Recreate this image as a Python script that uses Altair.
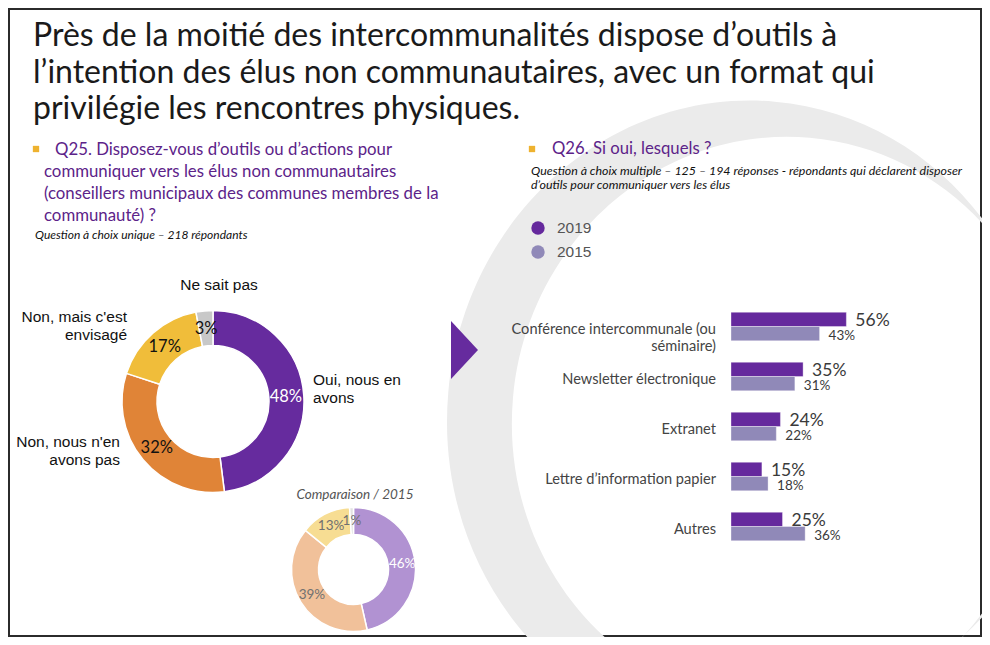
import altair as alt
import pandas as pd

# ---------------- data ----------------
title_lines = [
    "Près de la moitié des intercommunalités dispose d’outils à",
    "l’intention des élus non communautaires, avec un format qui",
    "privilégie les rencontres physiques.",
]
q25_first = "Q25. Disposez-vous d’outils ou d’actions pour"
q25_rest = [
    "communiquer vers les élus non communautaires",
    "(conseillers municipaux des communes membres de la",
    "communauté) ?",
]
q25_note = "Question à choix unique – 218 répondants"
q26_title = "Q26. Si oui, lesquels ?"
q26_note = [
    "Question à choix multiple – 125 – 194 réponses - répondants qui déclarent disposer",
    "d’outils pour communiquer vers les élus",
]
comparison_title = "Comparaison / 2015"

donut_cats = ["Oui, nous en avons", "Non, nous n'en avons pas",
              "Non, mais c'est envisagé", "Ne sait pas"]
donut_2019 = [48, 32, 17, 3]
donut_2015 = [46, 39, 13, 1]

series = ["2019", "2015"]
bar_cats = ["Conférence intercommunale (ou séminaire)", "Newsletter électronique",
            "Extranet", "Lettre d’information papier", "Autres"]
bar_label_lines = [["Conférence intercommunale (ou", "séminaire)"],
                   ["Newsletter électronique"], ["Extranet"],
                   ["Lettre d’information papier"], ["Autres"]]
v2019 = [56, 35, 24, 15, 25]
v2015 = [43, 31, 22, 18, 36]

# ---------------- styles ----------------
COL_2019 = ["#662b9e", "#e08437", "#f0bd3a", "#c8c8c8"]
COL_2015 = ["#b192d2", "#f1c19a", "#f7dd93", "#e2e2e2"]
BAR_COL = ["#65299d", "#9089b8"]
PURPLE_Q = "#5c2389"
BULLET = "#eeb22f"


def P(v):
    return v - 8


one = pd.DataFrame({"k": [0]})


def txt(text, x, y, size, color="#111111", font="Lato", align="left",
        baseline="alphabetic", style="normal", weight="normal", lh=None):
    kw = dict(text=text, fontSize=size, color=color, font=font, align=align,
              baseline=baseline, fontStyle=style, fontWeight=weight)
    if lh:
        kw["lineHeight"] = lh
    return alt.Chart(one).mark_text(**kw).encode(x=alt.value(P(x)), y=alt.value(P(y)))


layers = []

# watermark (decorative ring, thick on the left)
ring = ("M-0.056,-0.935 A0.882,0.935 0 1 1 -0.056,0.935 A0.882,0.935 0 1 1 -0.056,-0.935 Z "
        "M0.056,-0.838 A0.803,0.838 0 1 0 0.056,0.838 A0.803,0.838 0 1 0 0.056,-0.838 Z")
layers.append(alt.Chart(one).mark_point(shape=ring, size=680 * 680, filled=True,
                                        color="#ebebeb", opacity=1, angle=5, strokeWidth=0)
              .encode(x=alt.value(P(766)), y=alt.value(P(420))))

# title
layers.append(txt(title_lines, 33, 46, 32, color="#1a1a1a", lh=36.5))

# Q25
layers.append(alt.Chart(one).mark_square(size=40, color=BULLET, filled=True, opacity=1)
              .encode(x=alt.value(P(36)), y=alt.value(P(149))))
layers.append(txt(q25_first, 55, 155, 16.8, color=PURPLE_Q))
layers.append(txt(q25_rest, 44, 177, 16.8, color=PURPLE_Q, lh=22))
layers.append(txt(q25_note, 35, 239, 12, color="#111", style="italic"))

# Q26
layers.append(alt.Chart(one).mark_square(size=40, color=BULLET, filled=True, opacity=1)
              .encode(x=alt.value(P(532)), y=alt.value(P(149))))
layers.append(txt(q26_title, 552, 154, 16.7, color=PURPLE_Q))
layers.append(txt(q26_note, 531, 175, 12.4, color="#111", style="italic", lh=13.5))

# legend
for i, s in enumerate(series):
    yy = 228 + 24 * i
    layers.append(alt.Chart(one).mark_circle(size=180, color=BAR_COL[i], opacity=1)
                  .encode(x=alt.value(P(538)), y=alt.value(P(yy))))
    layers.append(txt(s, 557, yy, 15.5, color="#555555", font="Liberation Sans", baseline="middle"))

# main donut
d1 = pd.DataFrame({"cat": donut_cats, "pct": donut_2019, "k": list(range(4))})
cx1, cy1 = 213, 401.5
layers.append(alt.Chart(d1).mark_arc(outerRadius=91, innerRadius=56, stroke="white", strokeWidth=1.5)
              .encode(theta=alt.Theta("pct:Q", stack=True), order=alt.Order("k:Q"),
                      color=alt.Color("cat:N", scale=alt.Scale(domain=donut_cats, range=COL_2019), legend=None),
                      x=alt.value(P(cx1)), y=alt.value(P(cy1))))
layers.append(alt.Chart(d1).transform_calculate(lbl="datum.pct + '%'")
              .mark_text(radius=73, fontSize=16.5, font="Lato", baseline="middle")
              .encode(theta=alt.Theta("pct:Q", stack=True), order=alt.Order("k:Q"), text="lbl:N",
                      color=alt.condition("datum.k == 0", alt.value("white"), alt.value("#111111")),
                      x=alt.value(P(cx1)), y=alt.value(P(cy1))))
layers.append(txt(["Oui, nous en", "avons"], 313, 385, 15.5, font="Liberation Sans", lh=17.7))
layers.append(txt(["Non, nous n'en", "avons pas"], 120, 447, 15.5, font="Liberation Sans", align="right", lh=17.7))
layers.append(txt(["Non, mais c'est", "envisagé"], 127, 322, 15.5, font="Liberation Sans", align="right", lh=17.7))
layers.append(txt("Ne sait pas", 219, 290, 15.5, font="Liberation Sans", align="center"))

# comparison donut
d2 = pd.DataFrame({"cat": donut_cats, "pct": donut_2015, "k": list(range(4))})
cx2, cy2 = 353.5, 569.5
layers.append(txt(comparison_title, 355, 499, 13.5, color="#555555", style="italic", align="center"))
layers.append(alt.Chart(d2).mark_arc(outerRadius=62, innerRadius=35, stroke="white", strokeWidth=1.5)
              .encode(theta=alt.Theta("pct:Q", stack=True), order=alt.Order("k:Q"),
                      color=alt.Color("cat:N", scale=alt.Scale(domain=donut_cats, range=COL_2015), legend=None),
                      x=alt.value(P(cx2)), y=alt.value(P(cy2))))
layers.append(alt.Chart(d2).transform_calculate(lbl="datum.pct + '%'")
              .mark_text(radius=49, fontSize=13.5, font="Lato", baseline="middle")
              .encode(theta=alt.Theta("pct:Q", stack=True), order=alt.Order("k:Q"), text="lbl:N",
                      color=alt.condition("datum.k == 0", alt.value("white"), alt.value("#707070")),
                      x=alt.value(P(cx2)), y=alt.value(P(cy2))))

# arrow
layers.append(alt.Chart(one).mark_point(shape="M-0.465,-1L0.465,0L-0.465,1Z", size=58 * 58, filled=True,
                                        color="#662b9e", opacity=1, strokeWidth=0)
              .encode(x=alt.value(P(464.5)), y=alt.value(P(350))))

# bar chart
bars_df = pd.DataFrame({
    "cat": bar_cats * 2,
    "series": ["2019"] * len(bar_cats) + ["2015"] * len(bar_cats),
    "value": v2019 + v2015,
})
xscale = alt.Scale(domain=[0, 100], range=[P(731), P(937)])
yscale = alt.Scale(domain=bar_cats, range=[P(301.5), P(551.5)], paddingInner=0.43, paddingOuter=0.215)
yoff = alt.YOffset("series:N", scale=alt.Scale(domain=series, paddingInner=0, paddingOuter=0))

layers.append(alt.Chart(bars_df).mark_bar(stroke="white", strokeWidth=0.6, strokeOpacity=0.6)
              .encode(x=alt.X("value:Q", scale=xscale, axis=None),
                      y=alt.Y("cat:N", scale=yscale, axis=None),
                      yOffset=yoff,
                      color=alt.Color("series:N", scale=alt.Scale(domain=series, range=BAR_COL), legend=None)))
layers.append(alt.Chart(bars_df).transform_filter("datum.series == '2019'")
              .transform_calculate(lbl="datum.value + '%'")
              .mark_text(align="left", baseline="middle", dx=9, dy=2, fontSize=17.5, color="#3a3a3a", font="Lato")
              .encode(x=alt.X("value:Q", scale=xscale, axis=None),
                      y=alt.Y("cat:N", scale=yscale, axis=None), yOffset=yoff, text="lbl:N"))
layers.append(alt.Chart(bars_df).transform_filter("datum.series == '2015'")
              .transform_calculate(lbl="datum.value + '%'")
              .mark_text(align="left", baseline="middle", dx=9, dy=2.5, fontSize=13.5, color="#3a3a3a", font="Lato")
              .encode(x=alt.X("value:Q", scale=xscale, axis=None),
                      y=alt.Y("cat:N", scale=yscale, axis=None), yOffset=yoff, text="lbl:N"))

cat_df = pd.DataFrame({"cat": bar_cats, "lines": bar_label_lines})
layers.append(alt.Chart(cat_df)
              .mark_text(align="right", baseline="middle", dy=3, fontSize=14.6, color="#444444",
                         font="Lato", lineHeight=17)
              .encode(x=alt.value(P(716)), y=alt.Y("cat:N", scale=yscale, axis=None), text="lines:N"))

chart = (alt.layer(*layers)
         .resolve_scale(theta="independent", color="independent")
         .properties(width=974, height=629, autosize="none", padding=0)
         .configure_view(stroke="#2b2b2b", strokeWidth=4))

chart.save("out.html", embed_options={"renderer": "svg", "actions": False})
